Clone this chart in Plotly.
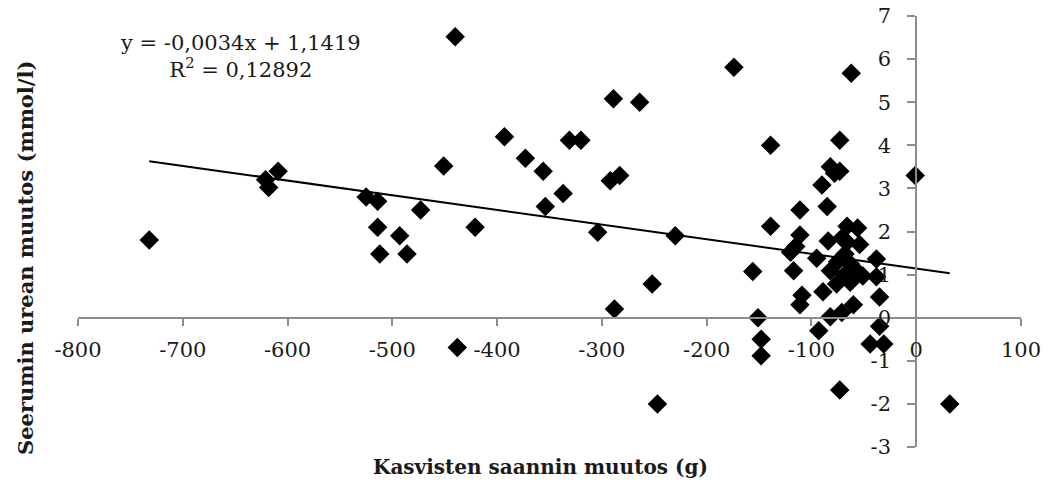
import plotly.graph_objects as go

# Data
veg_change = [
    -732, -621, -618, -609, -525, -514, -514, -512, -493, -486,
    -473, -451, -440, -438, -421, -393, -373, -356, -354, -337,
    -331, -320, -304, -292, -289, -283, -288, -264, -252, -247,
    -230, -174, -156, -151, -148, -148, -139, -139, -120, -117,
    -115, -111, -111, -109, -111, -95, -93, -90, -89, -85,
    -84, -82, -82, -82, -78, -76, -73, -73, -73, -71,
    -71, -68, -68, -66, -63, -62, -60, -57, -56, -54,
    -51, -44, -38, -38, -35, -35, -31, -1, 32, -63,
    -75, -66,
]
urea_change = [
    1.8, 3.2, 3.02, 3.4, 2.8, 2.7, 2.1, 1.48, 1.9, 1.48,
    2.5, 3.52, 6.52, -0.69, 2.1, 4.2, 3.7, 3.4, 2.58, 2.88,
    4.12, 4.12, 1.98, 3.18, 5.08, 3.3, 0.2, 5.0, 0.78, -2.0,
    1.9, 5.81, 1.07, 0.0, -0.5, -0.88, 4.0, 2.12, 1.52, 1.09,
    1.65, 2.5, 1.92, 0.52, 0.3, 1.38, -0.3, 3.08, 0.6, 2.58,
    1.78, 3.5, 1.09, 0.02, 3.35, 0.78, 4.12, 3.4, -1.68, 1.85,
    0.12, 1.48, 1.0, 2.12, 0.82, 5.67, 0.3, 1.09, 2.08, 1.7,
    0.97, -0.61, 1.36, 0.95, 0.48, -0.2, -0.61, 3.3, -2.0, 1.25,
    1.3, 1.75,
]

slope = -0.0034
intercept = 1.1419
equation_text = "y = -0,0034x + 1,1419<br>R<sup>2</sup> = 0,12892"

x_tickvals = [-800, -700, -600, -500, -400, -300, -200, -100, 0, 100]
x_ticktext = ["-800", "-700", "-600", "-500", "-400", "-300", "-200", "-100", "0", "100"]
y_tickvals = [-3, -2, -1, 0, 1, 2, 3, 4, 5, 6, 7]
y_ticktext = ["-3", "-2", "-1", "0", "1", "2", "3", "4", "5", "6", "7"]

x_title = "Kasvisten saannin muutos (g)"
y_title = "Seerumin urean muutos (mmol/l)"

x_range = [-800, 100]
y_range = [-3, 7]

trend_x = [min(veg_change), max(veg_change)]
trend_y = [slope * v + intercept for v in trend_x]

AXIS_COLOR = "#8c8c8c"
FONT = "DejaVu Serif"

fig = go.Figure()
fig.add_trace(go.Scatter(
    x=veg_change, y=urea_change, mode="markers",
    marker=dict(symbol="diamond", size=15, color="black", line=dict(width=0)),
    showlegend=False, hoverinfo="x+y",
))
fig.add_trace(go.Scatter(
    x=trend_x, y=trend_y, mode="lines",
    line=dict(color="black", width=2),
    showlegend=False, hoverinfo="skip",
))

y0_frac = (0 - y_range[0]) / (y_range[1] - y_range[0])
x0_frac = (0 - x_range[0]) / (x_range[1] - x_range[0])

# page body has an 8px margin, so the figure is shrunk/offset to compensate
fig.update_layout(
    width=1043, height=483,
    margin=dict(l=70, r=30, t=8, b=44),
    paper_bgcolor="white", plot_bgcolor="white",
    font=dict(family=FONT, color="#1a1a1a"),
    xaxis=dict(
        range=x_range, anchor="free", position=y0_frac, automargin=False,
        showgrid=False, zeroline=False,
        showline=True, linecolor=AXIS_COLOR, linewidth=2,
        ticks="outside", ticklen=7, tickwidth=2, tickcolor=AXIS_COLOR,
        tickmode="array", tickvals=x_tickvals, ticktext=x_ticktext,
        tickfont=dict(family=FONT, size=21, color="#1a1a1a"),
        ticklabelstandoff=6, ticklabeloverflow="allow",
    ),
    yaxis=dict(
        range=y_range, anchor="free", position=x0_frac, automargin=False,
        showgrid=False, zeroline=False,
        showline=True, linecolor=AXIS_COLOR, linewidth=2,
        ticks="outside", ticklen=8, tickwidth=2, tickcolor=AXIS_COLOR,
        tickmode="array", tickvals=y_tickvals, ticktext=y_ticktext,
        tickfont=dict(family=FONT, size=21, color="#1a1a1a"),
        ticklabelstandoff=12, ticklabeloverflow="allow",
    ),
    annotations=[
        dict(text=equation_text, xref="paper", yref="paper",
             x=(240 - 78) / 943, y=(447 - 56) / 431, xanchor="center", yanchor="middle",
             showarrow=False, align="center",
             font=dict(family=FONT, size=21, color="#1a1a1a")),
        dict(text="<b>" + x_title + "</b>", xref="paper", yref="paper",
             x=(540 - 78) / 943, y=(447 - 467) / 431, xanchor="center", yanchor="middle",
             showarrow=False, font=dict(family=FONT, size=20, color="#1a1a1a")),
        dict(text="<b>" + y_title + "</b>", xref="paper", yref="paper",
             x=(25 - 78) / 943, y=(447 - 258) / 431, xanchor="center", yanchor="middle",
             textangle=-90, showarrow=False,
             font=dict(family=FONT, size=21, color="#1a1a1a")),
    ],
)

fig.write_html("out.html")
